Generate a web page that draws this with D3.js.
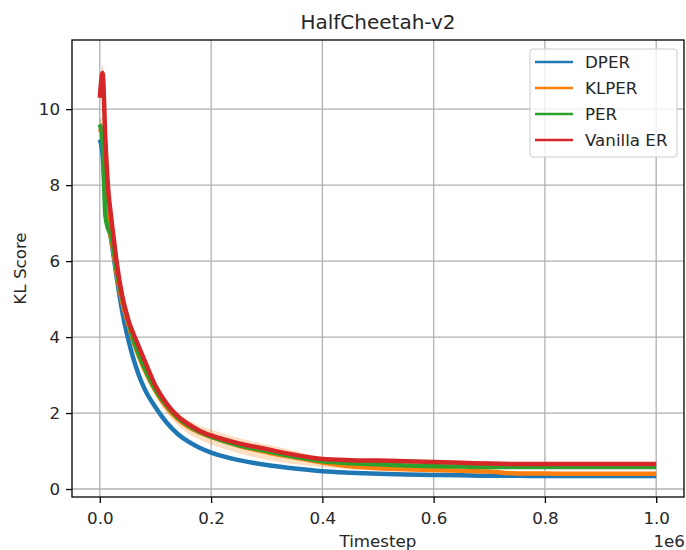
<!DOCTYPE html>
<html>
<head>
<meta charset="utf-8">
<script src="https://cdn.jsdelivr.net/npm/d3@7"></script>
<style>
  body { margin: 0; background: #fff; }
  text { font-family: "DejaVu Sans", sans-serif; fill: #262626; }
</style>
</head>
<body>
<div id="chart"></div>
<script>

// timesteps (x 1e6)
var steps = [0, 0.005, 0.01, 0.015, 0.02, 0.025, 0.03, 0.04, 0.05, 0.06, 0.07, 0.08,
  0.1, 0.12, 0.14, 0.16, 0.18, 0.2, 0.25, 0.3, 0.35, 0.4, 0.45, 0.5, 0.55, 0.6,
  0.65, 0.7, 0.75, 0.8, 0.85, 0.9, 0.95, 1.0];

var series_names = ["DPER", "KLPER", "PER", "Vanilla ER"];

var dper = [9.2, 8.8, 7.6, 7.0, 6.6, 6.1, 5.6, 4.7, 4.0, 3.45, 3.0, 2.65,
  2.15, 1.75, 1.45, 1.24, 1.08, 0.96, 0.76, 0.63, 0.54, 0.47, 0.43, 0.40, 0.38, 0.37,
  0.36, 0.35, 0.35, 0.34, 0.34, 0.34, 0.34, 0.34];
var klper = [9.4, 9.5, 8.0, 7.0, 6.6, 6.2, 5.7, 4.95, 4.4, 3.9, 3.5, 3.15,
  2.58, 2.15, 1.84, 1.63, 1.48, 1.37, 1.14, 0.97, 0.83, 0.70, 0.60, 0.55, 0.52, 0.50,
  0.48, 0.46, 0.41, 0.41, 0.40, 0.40, 0.40, 0.40];
var per = [9.6, 9.2, 7.2, 6.85, 6.7, 6.3, 5.8, 5.05, 4.5, 3.95, 3.55, 3.2,
  2.62, 2.2, 1.88, 1.66, 1.5, 1.38, 1.15, 1.0, 0.85, 0.73, 0.68, 0.65, 0.62, 0.60,
  0.59, 0.58, 0.58, 0.58, 0.58, 0.58, 0.58, 0.58];
var vanilla = [10.3, 10.95, 9.2, 7.9, 7.2, 6.6, 6.0, 5.1, 4.5, 4.1, 3.75, 3.4,
  2.72, 2.25, 1.92, 1.7, 1.53, 1.41, 1.2, 1.05, 0.9, 0.79, 0.76, 0.75, 0.73, 0.71,
  0.69, 0.67, 0.66, 0.66, 0.66, 0.66, 0.66, 0.66];

// spread around each mean
var dper_sd = [0.2, 0.2, 0.2, 0.15, 0.1, 0.1, 0.08, 0.06, 0.05, 0.05, 0.05, 0.05,
  0.04, 0.04, 0.04, 0.03, 0.03, 0.03, 0.03, 0.02, 0.02, 0.02, 0.02, 0.02, 0.02, 0.02,
  0.02, 0.02, 0.02, 0.02, 0.02, 0.02, 0.02, 0.02];
var klper_sd = [0.3, 0.3, 0.3, 0.2, 0.15, 0.12, 0.1, 0.1, 0.1, 0.1, 0.1, 0.1,
  0.12, 0.14, 0.16, 0.18, 0.18, 0.2, 0.2, 0.2, 0.18, 0.12, 0.08, 0.06, 0.05, 0.05,
  0.04, 0.04, 0.03, 0.03, 0.03, 0.03, 0.03, 0.03];
var per_sd = [0.2, 0.2, 0.2, 0.15, 0.1, 0.1, 0.08, 0.06, 0.05, 0.05, 0.05, 0.05,
  0.04, 0.04, 0.04, 0.04, 0.04, 0.04, 0.04, 0.04, 0.03, 0.03, 0.03, 0.03, 0.03, 0.03,
  0.03, 0.03, 0.03, 0.03, 0.03, 0.03, 0.03, 0.03];
var vanilla_sd = [0.2, 0.2, 0.2, 0.15, 0.1, 0.1, 0.08, 0.06, 0.05, 0.05, 0.05, 0.05,
  0.04, 0.04, 0.04, 0.04, 0.04, 0.04, 0.04, 0.04, 0.03, 0.03, 0.03, 0.03, 0.03, 0.03,
  0.03, 0.03, 0.03, 0.03, 0.03, 0.03, 0.03, 0.03];

var x_ticks = [0, 0.2e6, 0.4e6, 0.6e6, 0.8e6, 1.0e6];
var y_ticks = [0, 2, 4, 6, 8, 10];

// --------------------------------------------------------

var chart_width  = 686;
var chart_height = 550;
var pad_left = 72, pad_right = 684, pad_top = 40, pad_bottom = 497;

var colors = ["#1f77b4", "#ff7f0e", "#2ca02c", "#d62728"];
var means  = [dper, klper, per, vanilla];
var sds    = [dper_sd, klper_sd, per_sd, vanilla_sd];

var svg = d3.select("#chart")
  .append("svg")
  .attr("width", chart_width)
  .attr("height", chart_height);

// --------------------------------------------------------
// scales

var x_scale = d3.scaleLinear()
  .domain([-0.05e6, 1.05e6])
  .range([pad_left, pad_right]);

var y_scale = d3.scaleLinear()
  .domain([-0.21, 11.82])
  .range([pad_bottom, pad_top]);

// --------------------------------------------------------
// grid

svg.append("g")
  .selectAll("line")
  .data(x_ticks)
  .enter()
  .append("line")
  .attr("x1", (d) => x_scale(d)).attr("x2", (d) => x_scale(d))
  .attr("y1", pad_top).attr("y2", pad_bottom)
  .attr("stroke", "#b0b0b0").attr("stroke-width", 1.3);

svg.append("g")
  .selectAll("line")
  .data(y_ticks)
  .enter()
  .append("line")
  .attr("x1", pad_left).attr("x2", pad_right)
  .attr("y1", (d) => y_scale(d)).attr("y2", (d) => y_scale(d))
  .attr("stroke", "#b0b0b0").attr("stroke-width", 1.3);

// --------------------------------------------------------
// bands + lines

svg.append("clipPath").attr("id", "clip")
  .append("rect")
  .attr("x", pad_left).attr("y", pad_top)
  .attr("width", pad_right - pad_left).attr("height", pad_bottom - pad_top);

var plot = svg.append("g").attr("clip-path", "url(#clip)");

var area = d3.area()
  .x((d) => x_scale(d[0] * 1e6))
  .y0((d) => y_scale(d[1] - d[2]))
  .y1((d) => y_scale(d[1] + d[2]))
  .curve(d3.curveMonotoneX);

var line = d3.line()
  .x((d) => x_scale(d[0] * 1e6))
  .y((d) => y_scale(d[1]))
  .curve(d3.curveMonotoneX);

means.forEach((m, i) => {
  var rows = steps.map((s, j) => [s, m[j], sds[i][j]]);
  plot.append("path")
    .datum(rows)
    .attr("d", area)
    .attr("fill", colors[i])
    .attr("fill-opacity", 0.25);
});

means.forEach((m, i) => {
  var rows = steps.map((s, j) => [s, m[j]]);
  plot.append("path")
    .datum(rows)
    .attr("d", line)
    .attr("fill", "none")
    .attr("stroke", colors[i])
    .attr("stroke-width", 4.5)
    .attr("stroke-linejoin", "round");
});

// --------------------------------------------------------
// axes

var x_axis = d3.axisBottom(x_scale)
  .tickValues(x_ticks)
  .tickSize(6)
  .tickPadding(9)
  .tickFormat((d) => d3.format(".1f")(d / 1e6));

var y_axis = d3.axisLeft(y_scale)
  .tickValues(y_ticks)
  .tickSize(6)
  .tickPadding(6)
  .tickFormat(d3.format("d"));

var gx = svg.append("g")
  .attr("transform", "translate(0," + pad_bottom + ")")
  .call(x_axis);
gx.select(".domain").remove();
gx.selectAll("line").attr("stroke-width", 1.3);
gx.selectAll("text")
  .style("font-size", "16.7px")
  .attr("fill", "#262626");

var gy = svg.append("g")
  .attr("transform", "translate(" + pad_left + ",0)")
  .call(y_axis);
gy.select(".domain").remove();
gy.selectAll("line").attr("stroke-width", 1.3);
gy.selectAll("text")
  .style("font-size", "16.7px")
  .attr("fill", "#262626");

svg.append("rect")
  .attr("x", pad_left).attr("y", pad_top)
  .attr("width", pad_right - pad_left).attr("height", pad_bottom - pad_top)
  .attr("fill", "none")
  .attr("stroke", "#000")
  .attr("stroke-width", 1.3);

// --------------------------------------------------------
// text

svg.append("text")
  .attr("x", (pad_left + pad_right) / 2).attr("y", 29)
  .attr("text-anchor", "middle")
  .style("font-size", "20px")
  .text("HalfCheetah-v2");

svg.append("text")
  .attr("x", (pad_left + pad_right) / 2).attr("y", 547)
  .attr("text-anchor", "middle")
  .style("font-size", "16.7px")
  .text("Timestep");

svg.append("text")
  .attr("x", pad_right + 1).attr("y", 547)
  .attr("text-anchor", "end")
  .style("font-size", "16.7px")
  .text("1e6");

svg.append("text")
  .attr("transform", "translate(26," + ((pad_top + pad_bottom) / 2) + ") rotate(-90)")
  .attr("text-anchor", "middle")
  .style("font-size", "16.7px")
  .text("KL Score");

// --------------------------------------------------------
// legend

var legend = svg.append("g").attr("transform", "translate(530,49)");

legend.append("rect")
  .attr("width", 147).attr("height", 108)
  .attr("rx", 3)
  .attr("fill", "#fff").attr("fill-opacity", 0.8)
  .attr("stroke", "#cccccc");

series_names.forEach((name, i) => {
  var yy = 13 + i * 26;
  legend.append("line")
    .attr("x1", 5).attr("x2", 43)
    .attr("y1", yy).attr("y2", yy)
    .attr("stroke", colors[i])
    .attr("stroke-width", 2.5);
  legend.append("text")
    .attr("x", 55).attr("y", yy + 6)
    .style("font-size", "16.7px")
    .text(name);
});

</script>
</body>
</html>
